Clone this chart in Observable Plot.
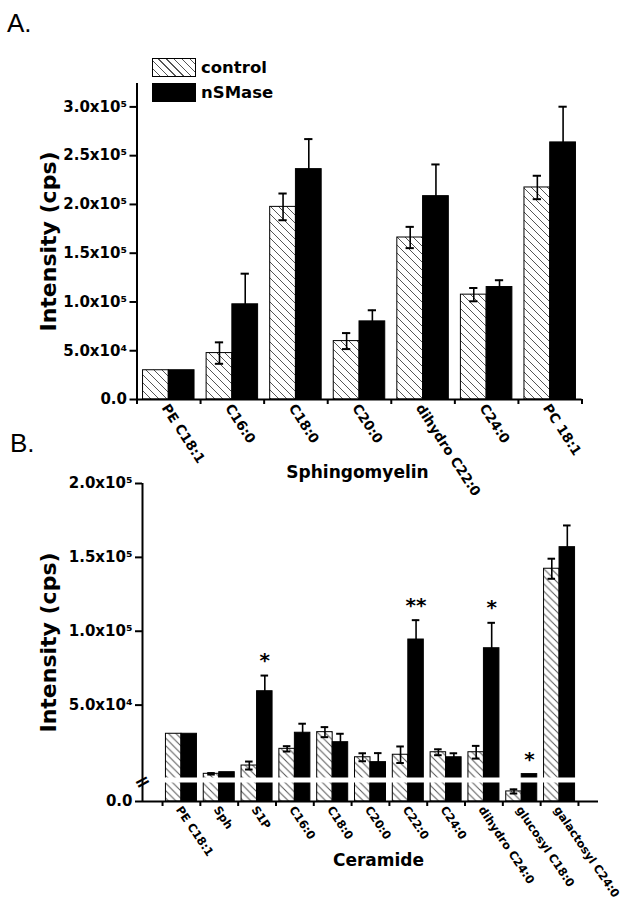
<!DOCTYPE html>
<html>
<head>
<meta charset="utf-8">
<script src="https://cdn.jsdelivr.net/npm/d3@7"></script>
<script src="https://cdn.jsdelivr.net/npm/@observablehq/plot@0.6"></script>
<style>
  body { margin: 0; background: #fff; }
  #root { position: relative; width: 624px; height: 914px; overflow: hidden; background: #fff; font-family: "DejaVu Sans", sans-serif; }
  .panel { position: absolute; left: 0; }
  .plabel { position: absolute; font-family: "Liberation Sans", Arial, sans-serif; font-size: 26px; line-height: 1; }
  .legend { position: absolute; left: 152px; top: 58px; font-family: "DejaVu Sans", sans-serif; font-weight: bold; font-size: 16.5px; }
  .row { display: flex; align-items: center; height: 19px; margin-bottom: 6px; }
  .sw { width: 44px; height: 19px; box-sizing: border-box; margin-right: 5px; }
  .hatch { border: 1px solid #000; background: repeating-linear-gradient(45deg, #fff 0px, #fff 4.5px, #555 4.5px, #555 5.5px); }
  .solid { background: #000; }
</style>
</head>
<body>
<div id="root">
  <div class="plabel" style="left:7px;top:10px;">A.</div>
  <div class="plabel" style="left:10px;top:430px;">B.</div>
  <div class="legend">
    <div class="row"><span class="sw hatch"></span><span>control</span></div>
    <div class="row"><span class="sw solid"></span><span>nSMase</span></div>
  </div>
</div>
<script>
// ---------- Panel A: Sphingomyelin ----------
const catsA = ["PE C18:1", "C16:0", "C18:0", "C20:0", "dihydro C22:0", "C24:0", "PC 18:1"];
const controlA = [30000, 47600, 197500, 59900, 166100, 107500, 217400];
const controlErrA = [0, 11000, 13700, 8200, 10900, 6800, 12000];
const nsmaseA = [30000, 97600, 236200, 80100, 208500, 115300, 263600];
const nsmaseErrA = [0, 31400, 30800, 11400, 32500, 7000, 36600];
const yTicksA = [0, 50000, 100000, 150000, 200000, 250000, 300000];
const yTickLabelsA = ["0.0", "5.0x10⁴", "1.0x10⁵", "1.5x10⁵", "2.0x10⁵", "2.5x10⁵", "3.0x10⁵"];
const xTitleA = "Sphingomyelin";

// ---------- Panel B: Ceramide ----------
const catsB = ["PE C18:1", "Sph", "S1P", "C16:0", "C18:0", "C20:0", "C22:0", "C24:0", "dihydro C24:0", "glucosyl C18:0", "galactosyl C24:0"];
const controlB = [30600, 3500, 9100, 20400, 31700, 14700, 16400, 18100, 18100, 530, 142300];
const controlErrB = [0, 500, 2700, 1800, 3400, 2700, 5600, 2000, 4300, 110, 6800];
const nsmaseB = [30600, 4600, 59400, 31300, 24900, 11400, 94400, 14700, 88500, 3300, 156900];
const nsmaseErrB = [0, 0, 10600, 6100, 5700, 6100, 13100, 2700, 17200, 0, 14700];
const yTicksB = [0, 50000, 100000, 150000, 200000];
const yTickLabelsB = ["0.0", "5.0x10⁴", "1.0x10⁵", "1.5x10⁵", "2.0x10⁵"];
const starCatsB = ["S1P", "C22:0", "dihydro C24:0", "glucosyl C18:0"];
const starLabelsB = ["*", "**", "*", "*"];
const breakLowB = 1000, breakHighB = 1001;
const xTitleB = "Ceramide";
const yTitle = "Intensity (cps)";

function makeRows(cats, ctrl, ctrlErr, ns, nsErr, f) {
  const rows = [];
  cats.forEach((c, i) => {
    rows.push({cat: c, series: "control", v: ctrl[i], e: ctrlErr[i], x1: i + f[0], x2: i + f[1]});
    rows.push({cat: c, series: "nSMase", v: ns[i], e: nsErr[i], x1: i + f[1], x2: i + f[2]});
  });
  rows.forEach(r => r.xc = (r.x1 + r.x2) / 2);
  return rows;
}

function addHatch(svg, id, size) {
  const s = size;
  d3.select(svg).insert("defs", ":first-child").html(
    `<pattern id="${id}" patternUnits="userSpaceOnUse" width="${s}" height="${s}">
       <rect width="${s}" height="${s}" fill="#fff"/>
       <path d="M0,0L${s},${s}M${-s/4},${3*s/4}L${s/4},${5*s/4}M${3*s/4},${-s/4}L${5*s/4},${s/4}" stroke="#555" stroke-width="1"/>
     </pattern>`);
}

function panel({cats, rows, yScale, yTicks, yTickLabels, xDomain, dims, cap, hatchId, tickFont, tickRotate, tickDx, xTitle, xTitleDx, xTitleDy, yTitleX, extra}) {
  const ctrl = rows.filter(r => r.series === "control");
  const ns = rows.filter(r => r.series === "nSMase");
  const errRows = rows.filter(r => r.e > 0);
  const n = cats.length;
  return Plot.plot({
    ...dims,
    x: {type: "linear", domain: xDomain, label: null},
    y: {...yScale, label: null},
    style: {background: "transparent", fontFamily: "DejaVu Sans", overflow: "visible", color: "black"},
    marks: [
      Plot.rect(ctrl, {x1: "x1", x2: "x2", y1: 0, y2: "v", fill: `url(#${hatchId})`, stroke: "black", strokeWidth: 1}),
      Plot.rect(ns, {x1: "x1", x2: "x2", y1: 0, y2: "v", fill: "black", stroke: "black", strokeWidth: 1}),
      Plot.ruleX(errRows, {x: "xc", y1: d => d.v - d.e, y2: d => d.v + d.e, stroke: "black", strokeWidth: 1.6}),
      Plot.ruleY(errRows, {y: d => d.v + d.e, x1: d => d.xc - cap, x2: d => d.xc + cap, stroke: "black", strokeWidth: 2}),
      Plot.ruleY(errRows, {y: d => d.v - d.e, x1: d => d.xc - cap, x2: d => d.xc + cap, stroke: "black", strokeWidth: 2}),
      ...(extra || []),
      Plot.ruleY([0], {stroke: "black", strokeWidth: 2}),
      Plot.ruleX([xDomain[0]], {stroke: "black", strokeWidth: 2}),
      Plot.axisY({ticks: yTicks, tickFormat: d => yTickLabels[yTicks.indexOf(d)], tickSize: 7, tickPadding: 3,
                  fontSize: 15, fontWeight: "bold", strokeWidth: 2, label: null}),
      Plot.axisX({ticks: d3.range(n + 1), tickFormat: () => "", tickSize: 5, strokeWidth: 2, label: null}),
      Plot.text(cats, {x: (d, i) => i + 0.5, frameAnchor: "bottom", rotate: tickRotate, textAnchor: "start",
                       lineAnchor: "middle", dx: tickDx, dy: 6, fontSize: tickFont, fontWeight: "bold"}),
      Plot.text([xTitle], {frameAnchor: "bottom", dx: xTitleDx, dy: xTitleDy, lineAnchor: "middle",
                           fontSize: 17, fontWeight: "bold"}),
      Plot.text([yTitle], {frameAnchor: "left", dx: yTitleX - dims.marginLeft, rotate: -90, lineAnchor: "middle",
                           textAnchor: "middle", fontSize: 22, fontWeight: "bold"})
    ]
  });
}

const root = document.getElementById("root");

// Panel A
const rowsA = makeRows(catsA, controlA, controlErrA, nsmaseA, nsmaseErrA, [0.095, 0.5, 0.905]);
const dimsA = {width: 624, height: 500, marginTop: 83, marginBottom: 101, marginLeft: 136.5, marginRight: 42.5};
const svgA = panel({
  cats: catsA, rows: rowsA, yScale: {domain: [0, 324000]}, yTicks: yTicksA, yTickLabels: yTickLabelsA,
  xDomain: [0, catsA.length], dims: dimsA, cap: 0.065, hatchId: "hatchA", tickFont: 13.5, tickRotate: 57,
  tickDx: -4, xTitle: xTitleA, xTitleDx: -2, xTitleDy: 73.5, yTitleX: 48
});
addHatch(svgA, "hatchA", 8);
svgA.classList.add("panel");
svgA.style.top = "0px";
root.appendChild(svgA);

// Panel B (broken y axis: piecewise linear scale)
const topB = 430;
const rowsB = makeRows(catsB, controlB, controlErrB, nsmaseB, nsmaseErrB, [0.09, 0.5, 0.91]);
const dimsB = {width: 624, height: 484, marginTop: 483 - topB, marginBottom: 484 - (801 - topB), marginLeft: 142, marginRight: 26};
const xDomB = [-0.53, catsB.length + 0.53];
const starRows = starCatsB.map((c, k) => {
  const r = rowsB.find(d => d.cat === c && d.series === "nSMase");
  return {xc: r.xc, y: r.v + r.e, label: starLabelsB[k]};
});
const breakMid = (breakLowB + breakHighB) / 2;
const svgB = panel({
  cats: catsB, rows: rowsB,
  yScale: {type: "linear", domain: [0, breakLowB, breakHighB, 200000], range: [801 - topB, 782 - topB, 777 - topB, 483 - topB]},
  yTicks: yTicksB, yTickLabels: yTickLabelsB,
  xDomain: xDomB, dims: dimsB, cap: 0.1, hatchId: "hatchB", tickFont: 11.5, tickRotate: 56,
  tickDx: -3, xTitle: xTitleB, xTitleDx: 8, xTitleDy: 59.5, yTitleX: 48,
  extra: [
    Plot.ruleY([breakMid], {x1: xDomB[0], x2: xDomB[1], stroke: "white", strokeWidth: 5}),
    Plot.text(starRows, {x: "xc", y: "y", text: "label", dy: -15, lineAnchor: "middle", fontSize: 20, fontWeight: "bold"})
  ]
});
addHatch(svgB, "hatchB", 7.5);
d3.select(svgB).append("g").node();
svgB.classList.add("panel");
svgB.style.top = topB + "px";
root.appendChild(svgB);

// break symbol on the y axis of panel B, drawn through the same scales
const yB = svgB.scale("y"), xB = svgB.scale("x");
const breakSvg = Plot.plot({
  ...dimsB,
  x: {type: "linear", domain: xDomB, axis: null},
  y: {type: "linear", domain: [0, breakLowB, breakHighB, 200000], range: [801 - topB, 782 - topB, 777 - topB, 483 - topB], axis: null},
  style: {background: "transparent", overflow: "visible"},
  marks: [
    Plot.text(["="], {x: xDomB[0], y: breakMid, dy: 2, rotate: -28, fontSize: 19, fontWeight: "bold", lineAnchor: "middle", fontFamily: "DejaVu Sans"})
  ]
});
breakSvg.classList.add("panel");
breakSvg.style.top = topB + "px";
breakSvg.style.pointerEvents = "none";
root.appendChild(breakSvg);
</script>
</body>
</html>
